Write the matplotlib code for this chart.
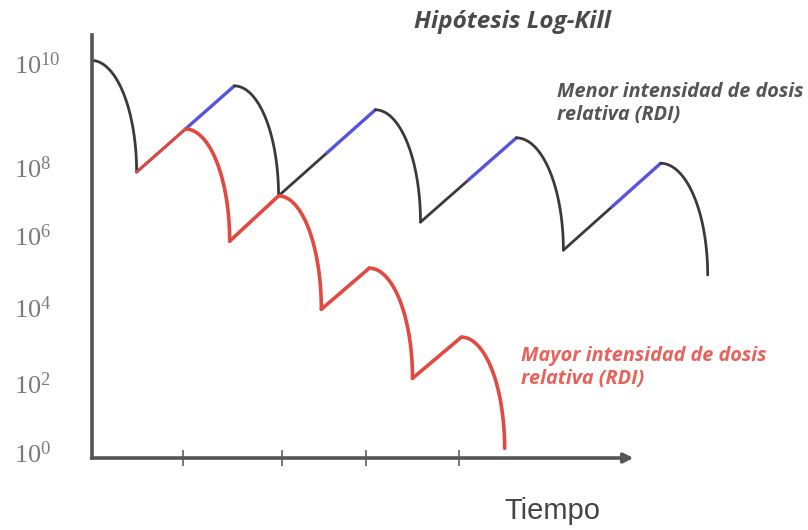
import numpy as np
import matplotlib.pyplot as plt

plt.rcParams['mathtext.default'] = 'regular'

# tiempo (unidades arbitrarias) y log10 del número de células
black_dose_t = [0.0, 3.04, 6.04, 9.04, 12.11]
black_dose_log = [10.05, 9.56, 9.10, 8.56, 8.07]
black_nadir_t = [0.96, 3.98, 7.0, 10.04, 13.11]
black_nadir_log = [7.85, 7.15, 6.38, 5.58, 4.89]

red_dose_t = [2.0, 3.98, 5.91, 7.87]
red_dose_log = [8.73, 7.15, 5.08, 3.21]
red_nadir_t = [2.94, 4.89, 6.83, 8.79]
red_nadir_log = [5.83, 3.94, 2.13, 0.11]

decades = [0, 2, 4, 6, 8, 10]
decade_labels = [r'$10^{%d}$' % d for d in decades]
time_ticks = [1.94, 4.06, 5.85, 7.81]

BLACK = '#3a3a3a'
BLUE = '#5454e0'
RED = '#e2493f'
AXIS = '#555555'

# escala del eje y: las décadas no están igualmente espaciadas en el esquema
decade_ext = [-2, 0, 2, 4, 6, 8, 10, 12]
decade_pos = [-1.77, 0, 1.77, 3.73, 5.58, 7.33, 10.0, 12.67]


def fwd(v):
    return np.interp(v, decade_ext, decade_pos)


def inv(s):
    return np.interp(s, decade_pos, decade_ext)


def kill_arc(t0, y0, t1, y1, n=80):
    # caída tras cada dosis: cuarto de elipse (tangente horizontal arriba, vertical abajo)
    th = np.linspace(0, np.pi / 2, n)
    s0, s1 = fwd(y0), fwd(y1)
    t = t0 + (t1 - t0) * np.sin(th)
    s = s1 + (s0 - s1) * np.cos(th)
    return t, inv(s)


def midpoint(t0, y0, t1, y1):
    return (t0 + t1) / 2, float(inv((fwd(y0) + fwd(y1)) / 2))


fig = plt.figure(figsize=(8.08, 5.30), dpi=100)
ax = fig.add_axes([91.5 / 808, 72 / 530, 638.5 / 808, 423 / 530])
ax.set_yscale('function', functions=(fwd, inv))
ax.set_xlim(0, 638.5 / 47)
ax.set_ylim(-0.17, 10.54)

line_kw = dict(solid_capstyle='round', solid_joinstyle='round')

# menor intensidad de dosis
for i in range(len(black_dose_t)):
    t, y = kill_arc(black_dose_t[i], black_dose_log[i], black_nadir_t[i], black_nadir_log[i])
    ax.plot(t, y, color=BLACK, lw=2.0, **line_kw)
    if i + 1 < len(black_dose_t):
        a = (black_nadir_t[i], black_nadir_log[i])
        b = (black_dose_t[i + 1], black_dose_log[i + 1])
        m = midpoint(*a, *b)
        ax.plot([a[0], m[0]], [a[1], m[1]], color=BLACK, lw=2.0, **line_kw)
        ax.plot([m[0], b[0]], [m[1], b[1]], color=BLUE, lw=2.4, **line_kw)

# mayor intensidad de dosis
ax.plot([black_nadir_t[0], red_dose_t[0]], [black_nadir_log[0], red_dose_log[0]],
        color=RED, lw=2.0, **line_kw)
for i in range(len(red_dose_t)):
    t, y = kill_arc(red_dose_t[i], red_dose_log[i], red_nadir_t[i], red_nadir_log[i])
    ax.plot(t, y, color=RED, lw=2.6, **line_kw)
    if i + 1 < len(red_dose_t):
        ax.plot([red_nadir_t[i], red_dose_t[i + 1]], [red_nadir_log[i], red_dose_log[i + 1]],
                color=RED, lw=2.6, **line_kw)

# ejes
for side in ['top', 'right', 'bottom']:
    ax.spines[side].set_visible(False)
ax.spines['left'].set_color(AXIS)
ax.spines['left'].set_linewidth(2.6)

ax.set_yticks(decades, decade_labels)
ax.tick_params(axis='y', length=0, pad=56, labelsize=19, labelcolor='#7a7a7a')
for lab in ax.get_yticklabels():
    lab.set_horizontalalignment('left')
    lab.set_family('Liberation Serif')

ax.set_xticks(time_ticks, [''] * len(time_ticks))
ax.tick_params(axis='x', direction='inout', length=11, width=1.4, color='#777777')
ax.minorticks_off()

ax.annotate('', xy=(11.53, 0), xycoords=('data', 'axes fraction'),
            xytext=(0, 0), textcoords=('data', 'axes fraction'),
            arrowprops=dict(arrowstyle='-|>,head_length=0.55,head_width=0.28',
                            color=AXIS, lw=2.6, shrinkA=0, shrinkB=0))

fig.text(512 / 808, 1 - 22 / 530, 'Hipótesis Log-Kill', ha='center', va='center',
         family='Open Sans', weight='bold', style='italic', size=17.5, color='#4a4a4a')
fig.text(557 / 808, 1 - 103.5 / 530, 'Menor intensidad de dosis\nrelativa (RDI)',
         ha='left', va='center', family='Open Sans', weight='bold', style='italic',
         size=14.3, color='#555555', linespacing=1.25)
fig.text(521 / 808, 1 - 367.5 / 530, 'Mayor intensidad de dosis\nrelativa (RDI)',
         ha='left', va='center', family='Open Sans', weight='bold', style='italic',
         size=14.3, color='#e8625c', linespacing=1.25)
fig.text(552 / 808, 1 - 511 / 530, 'Tiempo', ha='center', va='center',
         family='Liberation Sans', size=21, color='#444444')

fig.savefig('out.png', dpi=100)
